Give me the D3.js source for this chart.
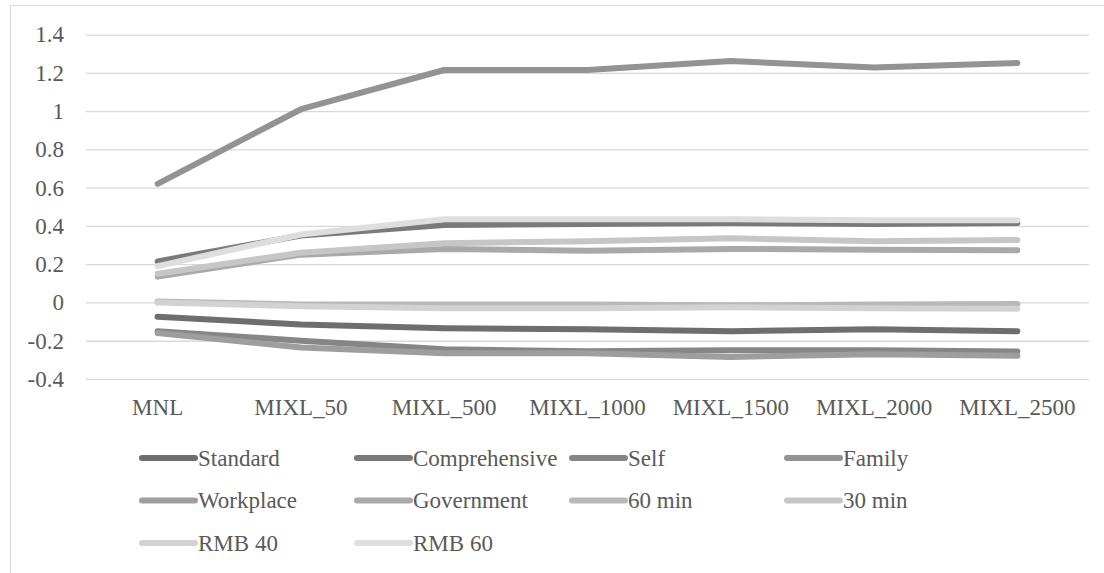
<!DOCTYPE html>
<html>
<head>
<meta charset="utf-8">
<script src="https://cdn.jsdelivr.net/npm/d3@7"></script>
<style>
  body { margin: 0; background: #fff; }
  svg text { fill: #595959; }
</style>
</head>
<body>
<div class="chart"></div>
<script>
// categories along the x axis
const models = ['MNL', 'MIXL_50', 'MIXL_500', 'MIXL_1000', 'MIXL_1500', 'MIXL_2000', 'MIXL_2500'];

// one array per attribute level
const standard      = [-0.075, -0.115, -0.135, -0.14, -0.15, -0.14, -0.15];
const comprehensive = [0.215, 0.35, 0.405, 0.41, 0.415, 0.41, 0.415];
const self          = [-0.15, -0.2, -0.245, -0.255, -0.25, -0.25, -0.256];
const family        = [0.62, 1.01, 1.215, 1.215, 1.262, 1.228, 1.252];
const workplace     = [-0.16, -0.235, -0.265, -0.265, -0.285, -0.27, -0.278];
const government    = [0.135, 0.25, 0.28, 0.27, 0.28, 0.275, 0.273];
const min60         = [0.005, -0.01, -0.01, -0.01, -0.015, -0.01, -0.008];
const min30         = [0.15, 0.26, 0.31, 0.32, 0.335, 0.32, 0.327];
const rmb40         = [0.0, -0.02, -0.03, -0.03, -0.025, -0.03, -0.033];
const rmb60         = [0.19, 0.355, 0.435, 0.435, 0.435, 0.43, 0.43];

const seriesNames = ['Standard', 'Comprehensive', 'Self', 'Family', 'Workplace',
                     'Government', '60 min', '30 min', 'RMB 40', 'RMB 60'];
const seriesValues = [standard, comprehensive, self, family, workplace,
                      government, min60, min30, rmb40, rmb60];
const yTicks = [-0.4, -0.2, 0, 0.2, 0.4, 0.6, 0.8, 1, 1.2, 1.4];

const colors = ['#6e6e6e', '#7a7a7a', '#868686', '#939393', '#9e9e9e',
                '#a9a9a9', '#b8b8b8', '#c6c6c6', '#d2d2d2', '#dedede'];

const series = seriesNames.map((name, i) => ({name, values: seriesValues[i], color: colors[i]}));

const outerWidth = 1104;
const outerHeight = 573;
const plot = {left: 86, right: 1089, top: 34.6, bottom: 379};
const fontFamily = '"Liberation Serif", Times, "Times New Roman", Tinos, "Nimbus Roman", FreeSerif, "DejaVu Serif", serif';

const svg = d3.select('.chart')
  .append('svg')
  .attr('width', outerWidth)
  .attr('height', outerHeight)
  .attr('font-family', fontFamily);

// chart frame
svg.append('rect')
  .attr('x', 10.5).attr('y', 5.5)
  .attr('width', 1110).attr('height', 600)
  .attr('fill', 'none')
  .attr('stroke', '#d9d9d9')
  .attr('stroke-width', 1);

const xScale = d3.scaleBand()
  .domain(models)
  .range([plot.left, plot.right]);

const yScale = d3.scaleLinear()
  .domain([-0.4, 1.4])
  .range([plot.bottom, plot.top]);

const fmt = d => String(+d.toFixed(1));

// y axis with gridlines
const yAxis = d3.axisLeft(yScale)
  .tickValues(yTicks)
  .tickSize(-(plot.right - plot.left))
  .tickPadding(22)
  .tickFormat(fmt);

const gy = svg.append('g')
  .attr('transform', `translate(${plot.left},0)`)
  .call(yAxis)
  .attr('font-family', fontFamily)
  .attr('font-size', 23);
gy.select('.domain').remove();
gy.selectAll('.tick line').attr('stroke', '#d9d9d9').attr('stroke-width', 1.3);
gy.selectAll('.tick text').attr('fill', '#595959');

// x axis labels
const gx = svg.append('g')
  .attr('transform', `translate(0,${plot.bottom})`)
  .call(d3.axisBottom(xScale).tickSize(0).tickPadding(20))
  .attr('font-family', fontFamily)
  .attr('font-size', 23);
gx.select('.domain').remove();
gx.selectAll('.tick text').attr('fill', '#595959');

const xPos = (d, i) => xScale(models[i]) + xScale.bandwidth() / 2;

const line = d3.line()
  .x(xPos)
  .y(d => yScale(d));

svg.selectAll('.series')
  .data(series)
  .enter()
  .append('path')
  .attr('class', 'series')
  .attr('d', d => line(d.values))
  .attr('fill', 'none')
  .attr('stroke', d => d.color)
  .attr('stroke-width', 6)
  .attr('stroke-linecap', 'round')
  .attr('stroke-linejoin', 'round');

// legend, four per row
const legend = svg.selectAll('.legend')
  .data(series)
  .enter()
  .append('g')
  .attr('class', 'legend')
  .attr('transform', (d, i) => `translate(${140 + (i % 4) * 215},${458 + Math.floor(i / 4) * 42.5})`);

legend.append('line')
  .attr('x1', 2).attr('x2', 55)
  .attr('stroke', d => d.color)
  .attr('stroke-width', 6)
  .attr('stroke-linecap', 'round');

legend.append('text')
  .attr('x', 58)
  .attr('dy', '0.33em')
  .attr('font-size', 23)
  .text(d => d.name);
</script>
</body>
</html>
